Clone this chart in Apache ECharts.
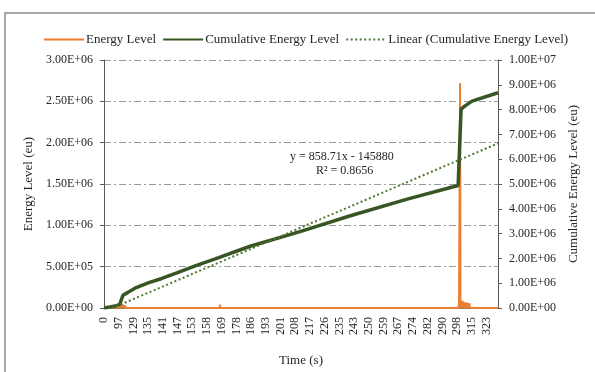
<!DOCTYPE html>
<html>
<head>
<meta charset="utf-8">
<script src="https://cdn.jsdelivr.net/npm/echarts@6/dist/echarts.min.js"></script>
<style>
  html, body { margin: 0; padding: 0; background: #ffffff; }
  #chart { width: 595px; height: 372px; }
</style>
</head>
<body>
<div id="chart"></div>
<script>
// Time stamps (s) shown under every 295th sample
const timeLabels = ['0', '97', '129', '135', '141', '147', '153', '158', '169', '178', '186', '193', '201', '208',
  '217', '226', '235', '243', '250', '259', '267', '274', '282', '290', '298', '315', '323'];
const labelStep = 295;      // samples between two time labels
const sampleCount = 7900;   // samples in the record

// Cumulative energy level (eu) at selected sample indices
const cumIdx = [0, 120, 250, 320, 350, 380, 480, 620, 900, 1160, 1460, 1830, 2230, 2930, 3930, 4940, 6080, 7100, 7140, 7160, 7240, 7380, 7900];
const cumVal = [0, 40000, 90000, 160000, 350000, 510000, 630000, 800000, 1020000, 1190000, 1420000, 1700000, 1980000,
  2490000, 3080000, 3720000, 4390000, 4940000, 5020000, 8020000, 8150000, 8340000, 8680000];

// Energy level (eu): pulses above a zero baseline (sample index, peak value)
const pulseIdx = [260, 300, 341, 380, 421, 521, 662, 1564, 1624, 2326, 2426, 3689, 4010, 4331, 4772, 5373, 6777,
  7110, 7140, 7160, 7180, 7200, 7220, 7250, 7270, 7300, 7330];
const pulseVal = [20000, 35000, 50000, 40000, 30000, 20000, 15000, 20000, 15000, 40000, 20000, 15000, 15000, 15000,
  15000, 15000, 15000, 30000, 2720000, 90000, 85000, 80000, 60000, 70000, 65000, 60000, 55000];

// Linear trend of the cumulative energy level (x = sample number)
const trendSlope = 858.71;
const trendIntercept = -145880;
const trendR2 = 0.8656;

const serif = 'Liberation Serif';

const cumData = cumIdx.map((x, i) => [x, cumVal[i]]);

const energyData = [[0, 0]];
pulseIdx.forEach((c, i) => {
  energyData.push([c - 8, 0], [c, pulseVal[i]], [c + 8, 0]);
});
energyData.push([sampleCount, 0]);

const trendData = [1, sampleCount].map(x => [x, trendSlope * x + trendIntercept]);

function sci(v) {
  const parts = Number(v).toExponential(2).split('e');
  const e = parseInt(parts[1], 10);
  const sign = e < 0 ? '-' : '+';
  const a = Math.abs(e);
  return parts[0] + 'E' + sign + (a < 10 ? '0' + a : String(a));
}

const chart = echarts.init(document.getElementById('chart'), null, { renderer: 'canvas' });

chart.setOption({
  animation: false,
  backgroundColor: '#ffffff',
  textStyle: { fontFamily: serif },
  graphic: [
    {
      type: 'rect',
      shape: { x: 5, y: 13, width: 620, height: 400 },
      style: { fill: 'none', stroke: '#8c8c8c', lineWidth: 1.5 },
      silent: true
    },
    {
      type: 'text',
      left: 290, top: 151,
      style: {
        text: 'y = ' + trendSlope + 'x - ' + Math.abs(trendIntercept),
        font: '12px "Liberation Serif"', fill: '#262626'
      }
    },
    {
      type: 'text',
      left: 316, top: 165,
      style: {
        text: 'R\u00b2 = ' + trendR2,
        font: '12px "Liberation Serif"', fill: '#262626'
      }
    }
  ],
  legend: {
    top: 28,
    left: 38,
    itemWidth: 40,
    itemHeight: 10,
    itemGap: 6,
    itemStyle: { opacity: 0 },
    textStyle: { fontFamily: serif, fontSize: 13, color: '#262626', padding: [0, 0, 0, -3] },
    data: ['Energy Level', 'Cumulative Energy Level', 'Linear (Cumulative Energy Level)']
  },
  grid: { left: 104, right: 97, top: 60, bottom: 59, containLabel: false },
  xAxis: {
    type: 'value',
    min: 0,
    max: sampleCount,
    interval: labelStep,
    name: 'Time (s)',
    nameLocation: 'middle',
    nameGap: 46,
    nameTextStyle: { fontFamily: serif, fontSize: 13, color: '#262626' },
    axisLine: { show: true, lineStyle: { color: '#808080', width: 1 } },
    axisTick: { show: false },
    splitLine: { show: false },
    axisLabel: {
      rotate: 90,
      margin: 9,
      fontFamily: serif,
      fontSize: 12,
      color: '#262626',
      showMaxLabel: false,
      formatter: function (v) {
        const k = Math.round(v / labelStep);
        if (Math.abs(v - k * labelStep) < 1e-6 && k < timeLabels.length) return timeLabels[k];
        return '';
      }
    }
  },
  yAxis: [
    {
      type: 'value',
      min: 0,
      max: 3000000,
      interval: 500000,
      name: 'Energy Level (eu)',
      nameLocation: 'middle',
      nameGap: 67,
      nameTextStyle: { fontFamily: serif, fontSize: 13, color: '#262626' },
      axisLine: { show: true, lineStyle: { color: '#595959', width: 1 } },
      axisTick: { show: true, length: 4, lineStyle: { color: '#595959' } },
      axisLabel: { fontFamily: serif, fontSize: 12, color: '#262626', margin: 11, formatter: sci },
      splitLine: { show: true, lineStyle: { color: '#9a9a9a', width: 1, type: [7, 3, 2, 3] } }
    },
    {
      type: 'value',
      min: 0,
      max: 10000000,
      interval: 1000000,
      position: 'right',
      name: 'Cumulative Energy Level (eu)',
      nameLocation: 'middle',
      nameGap: 69,
      nameRotate: 90,
      nameTextStyle: { fontFamily: serif, fontSize: 13, color: '#262626' },
      axisLine: { show: true, lineStyle: { color: '#595959', width: 1 } },
      axisTick: { show: true, length: 4, lineStyle: { color: '#595959' } },
      axisLabel: { fontFamily: serif, fontSize: 12, color: '#262626', margin: 11, formatter: sci },
      splitLine: { show: false }
    }
  ],
  series: [
    {
      name: 'Energy Level',
      type: 'line',
      yAxisIndex: 0,
      data: energyData,
      symbol: 'none',
      itemStyle: { color: '#ed7d31' },
      lineStyle: { color: '#ed7d31', width: 2 },
      z: 2
    },
    {
      name: 'Cumulative Energy Level',
      type: 'line',
      yAxisIndex: 1,
      data: cumData,
      symbol: 'none',
      itemStyle: { color: '#375623' },
      lineStyle: { color: '#375623', width: 3.5 },
      z: 3
    },
    {
      name: 'Linear (Cumulative Energy Level)',
      type: 'line',
      yAxisIndex: 1,
      data: trendData,
      symbol: 'none',
      clip: true,
      itemStyle: { color: '#4f7a32' },
      lineStyle: { color: '#4f7a32', width: 2, type: [2, 2.5] },
      z: 4
    }
  ]
});
</script>
</body>
</html>
